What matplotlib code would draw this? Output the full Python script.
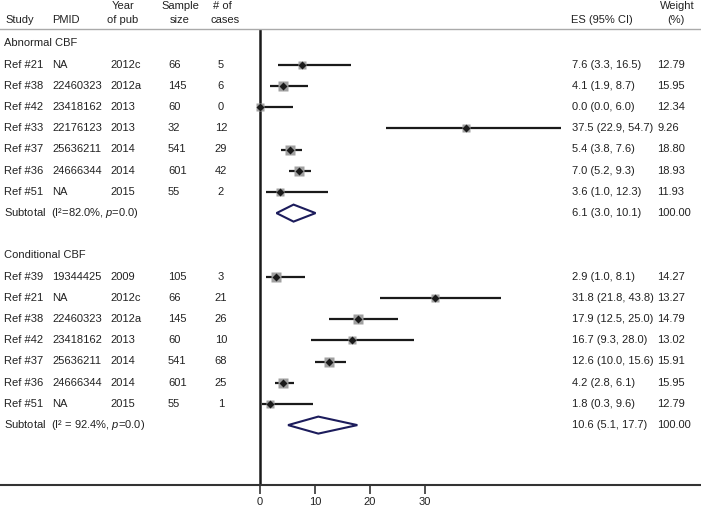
import numpy as np
import matplotlib
matplotlib.use('Agg')
import matplotlib.pyplot as plt
from matplotlib.patches import Polygon

plt.rcParams['font.family'] = ['Liberation Sans', 'DejaVu Sans']
plt.rcParams['mathtext.fontset'] = 'custom'
plt.rcParams['mathtext.rm'] = 'Liberation Sans'
plt.rcParams['mathtext.it'] = 'Liberation Sans:italic'

# Abnormal CBF
abn_study = ['Ref #21', 'Ref #38', 'Ref #42', 'Ref #33', 'Ref #37', 'Ref #36', 'Ref #51']
abn_pmid = ['NA', '22460323', '23418162', '22176123', '25636211', '24666344', 'NA']
abn_year = ['2012c', '2012a', '2013', '2013', '2014', '2014', '2015']
abn_n = [66, 145, 60, 32, 541, 601, 55]
abn_cases = [5, 6, 0, 12, 29, 42, 2]
abn_es = [7.6, 4.1, 0.0, 37.5, 5.4, 7.0, 3.6]
abn_lo = [3.3, 1.9, 0.0, 22.9, 3.8, 5.2, 1.0]
abn_hi = [16.5, 8.7, 6.0, 54.7, 7.6, 9.3, 12.3]
abn_w = [12.79, 15.95, 12.34, 9.26, 18.80, 18.93, 11.93]
abn_sub = [6.1, 3.0, 10.1]
abn_het = 'Subtotal  (I²=82.0%, $p$=0.0)'

# Conditional CBF
cond_study = ['Ref #39', 'Ref #21', 'Ref #38', 'Ref #42', 'Ref #37', 'Ref #36', 'Ref #51']
cond_pmid = ['19344425', 'NA', '22460323', '23418162', '25636211', '24666344', 'NA']
cond_year = ['2009', '2012c', '2012a', '2013', '2014', '2014', '2015']
cond_n = [105, 66, 145, 60, 541, 601, 55]
cond_cases = [3, 21, 26, 10, 68, 25, 1]
cond_es = [2.9, 31.8, 17.9, 16.7, 12.6, 4.2, 1.8]
cond_lo = [1.0, 21.8, 12.5, 9.3, 10.0, 2.8, 0.3]
cond_hi = [8.1, 43.8, 25.0, 28.0, 15.6, 6.1, 9.6]
cond_w = [14.27, 13.27, 14.79, 13.02, 15.91, 15.95, 12.79]
cond_sub = [10.6, 5.1, 17.7]
cond_het = 'Subtotal  (I² = 92.4%, $p$=0.0)'

xticks = [0, 10, 20, 30]

W, H = 701, 507
fig = plt.figure(figsize=(W / 100, H / 100), dpi=100)
top_px, bot_px = 29, 485
ax = fig.add_axes([0, (H - bot_px) / H, 1, (bot_px - top_px) / H])
scale = 5.5  # pixels per unit
ax.set_xlim(-260 / scale, (W - 260) / scale)
ax.set_ylim(bot_px, top_px)


def px(x):
    return (x - 260) / scale


tc = '#222222'
fs = 8
y0, dy = 43.5, 21.2

# header
hdr_lo, hdr_hi = 20, 6
ax.text(px(5), hdr_lo, 'Study', fontsize=fs, color=tc, va='center')
ax.text(px(52), hdr_lo, 'PMID', fontsize=fs, color=tc, va='center')
ax.text(px(123), hdr_hi, 'Year', fontsize=fs, color=tc, va='center', ha='center')
ax.text(px(123), hdr_lo, 'of pub', fontsize=fs, color=tc, va='center', ha='center')
ax.text(px(180), hdr_hi, 'Sample', fontsize=fs, color=tc, va='center', ha='center')
ax.text(px(180), hdr_lo, 'size', fontsize=fs, color=tc, va='center', ha='center')
ax.text(px(222), hdr_hi, '# of', fontsize=fs, color=tc, va='center', ha='center')
ax.text(px(225), hdr_lo, 'cases', fontsize=fs, color=tc, va='center', ha='center')
ax.text(px(571), hdr_lo, 'ES (95% CI)', fontsize=fs, color=tc, va='center')
ax.text(px(677), hdr_hi, 'Weight', fontsize=fs, color=tc, va='center', ha='center')
ax.text(px(676), hdr_lo, '(%)', fontsize=fs, color=tc, va='center', ha='center')

groups = [
    ('Abnormal CBF', abn_study, abn_pmid, abn_year, abn_n, abn_cases,
     abn_es, abn_lo, abn_hi, abn_w, abn_sub, abn_het),
    ('Conditional CBF', cond_study, cond_pmid, cond_year, cond_n, cond_cases,
     cond_es, cond_lo, cond_hi, cond_w, cond_sub, cond_het),
]

row = 0
for (name, study, pmid, year, n, cases, es, lo, hi, w, sub, het) in groups:
    y = y0 + row * dy
    ax.text(px(4), y, name, fontsize=fs, color=tc, va='center')
    row += 1
    for i in range(len(study)):
        y = y0 + row * dy
        ax.text(px(4), y, study[i], fontsize=fs, color=tc, va='center')
        ax.text(px(52), y, pmid[i], fontsize=fs, color=tc, va='center')
        ax.text(px(110), y, year[i], fontsize=fs, color=tc, va='center')
        ax.text(px(168), y, str(n[i]), fontsize=fs, color=tc, va='center')
        ax.text(px(221), y, str(cases[i]), fontsize=fs, color=tc, va='center', ha='center')
        ax.text(px(572), y, '%.1f (%.1f, %.1f)' % (es[i], lo[i], hi[i]),
                fontsize=fs, color=tc, va='center')
        ax.text(px(657), y, '%.2f' % w[i], fontsize=fs, color=tc, va='center')
        ax.plot([lo[i], hi[i]], [y, y], color='#1a1a1a', lw=1.6, zorder=3,
                solid_capstyle='butt')
        side = 2.4 * np.sqrt(w[i]) * 0.72
        ax.plot(es[i], y, marker='s', ms=side, color='#a0a0a0', mec='none', zorder=4)
        ax.plot(es[i], y, marker='D', ms=3.8, color='#1a1a1a', mec='none', zorder=5)
        row += 1
    y = y0 + row * dy
    ax.text(px(4), y, het, fontsize=fs, color=tc, va='center')
    ax.text(px(572), y, '%.1f (%.1f, %.1f)' % (sub[0], sub[1], sub[2]),
            fontsize=fs, color=tc, va='center')
    ax.text(px(657), y, '100.00', fontsize=fs, color=tc, va='center')
    hh = 8.5
    diamond = Polygon([[sub[1], y], [sub[0], y - hh], [sub[2], y], [sub[0], y + hh]],
                      closed=True, fill=False, edgecolor='#1c1c5c', lw=1.5, zorder=4)
    ax.add_patch(diamond)
    row += 2

ax.axvline(0, color='#1a1a1a', lw=1.8, zorder=2)

for s in ['left', 'right']:
    ax.spines[s].set_visible(False)
ax.spines['top'].set_color('#aaaaaa')
ax.spines['top'].set_linewidth(1.0)
ax.spines['bottom'].set_color('#333333')
ax.spines['bottom'].set_linewidth(1.5)
ax.set_yticks([])
ax.set_xticks(xticks)
ax.set_xticklabels([str(t) for t in xticks])
ax.tick_params(axis='x', direction='out', length=6.5, width=1.2, color='#333333',
               labelsize=fs, labelcolor=tc, pad=2)

fig.savefig('out.png', dpi=100)
